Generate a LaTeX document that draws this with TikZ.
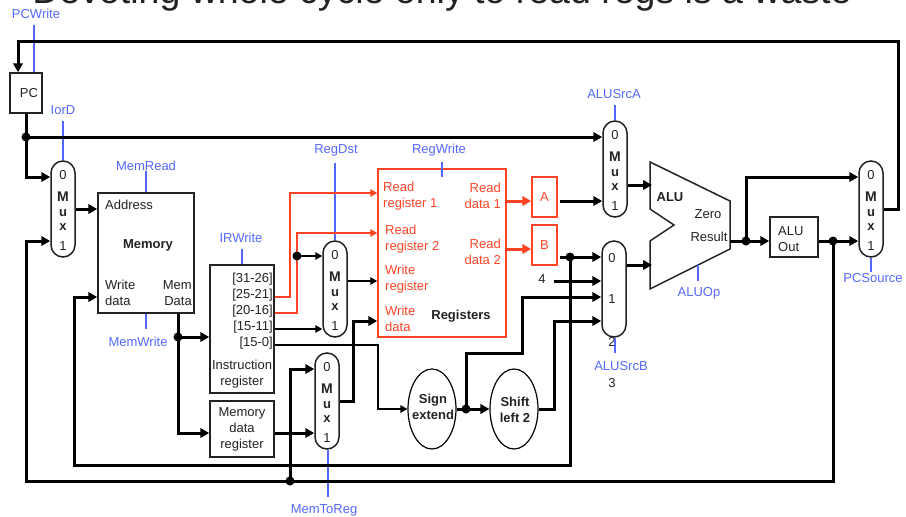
\documentclass[tikz,border=0pt]{standalone}
\usepackage{fontspec}
\setmainfont{Liberation Sans}
\usetikzlibrary{arrows.meta, shapes.geometric}
\definecolor{ctlblue}{HTML}{5468FF}
\definecolor{regred}{HTML}{FF4426}
\definecolor{wiregray}{HTML}{222222}
\newcommand{\muxlabel}{\rule{0pt}{12pt}0\\[6pt]{\fontsize{14}{16}\selectfont\bfseries M}\\[-1pt]\textbf{u}\\[-2pt]\textbf{x}\\[4pt]1}

\begin{document}
\begin{tikzpicture}[x=1pt, y=-1pt, font=\fontsize{13}{16}\selectfont, >={Triangle[length=9pt,width=9.5pt]},
  every node/.append style={inner sep=0pt, text=wiregray},
  box/.style={draw=wiregray, line width=1.5pt, align=center},
  muxbox/.style={box, rounded corners=12pt, minimum width=24pt, minimum height=96pt},
  oval/.style={ellipse, draw=black, line width=1.2pt, minimum width=48pt, minimum height=80pt},
  ovaltxt/.style={align=center, font=\fontsize{13}{16}\selectfont\bfseries},
  redbox/.style={draw=regred, line width=1.5pt, text=regred, align=center},
  txt/.style={align=left, anchor=west},
  redtxt/.style={txt, text=regred},
  ctl/.style={text=ctlblue},
  ctlwire/.style={draw=ctlblue, line width=1.5pt},
  bus/.style={draw=black, line width=3pt},
  thinwire/.style={draw=black, line width=1.3pt, >={Triangle[length=7pt,width=7.5pt]}},
  redwire/.style={draw=regred, line width=1.5pt, >={Triangle[length=7pt,width=7.5pt]}},
  redbus/.style={draw=regred, line width=3pt},
  dot/.style={circle, fill=black, minimum size=9pt}]
  \useasboundingbox (0,0) rectangle (906,517);
  \node[anchor=base] (title) at (442,3) {\fontsize{37.5}{40}\selectfont Devoting whole cycle only to read regs is a waste};

  % state elements
  \node[box, minimum width=32pt, minimum height=40pt] (pc) at (26,93) {\hspace{6pt}PC};
  \node[box, minimum width=96pt, minimum height=120pt] (memory) at (146,253) {};
  \node[box, minimum width=64pt, minimum height=128pt] (ir) at (242,329) {};
  \node[box, minimum width=64pt, minimum height=56pt] (mdr) at (242,429) {Memory\\data\\register};
  \node[redbox, minimum width=128pt, minimum height=168pt] (regs) at (442,253) {};
  \node[redbox, minimum width=25pt, minimum height=40pt] (rega) at (544.5,197) {A};
  \node[redbox, minimum width=25pt, minimum height=40pt] (regb) at (544.5,245) {B};
  \node[box, minimum width=48pt, minimum height=40pt] (aluout) at (794,237) {};
  \node[oval] (sign) at (432,409) {};
  \node[oval] (shift) at (514,409) {};
  \node[ovaltxt] (signtxt) at (433,407) {Sign\\extend};
  \node[ovaltxt] (shifttxt) at (515,410) {Shift\\left 2};

  % muxes
  \node[muxbox] (muxiord) at (63,209) {\muxlabel};
  \node[muxbox] (muxregdst) at (335,289) {\muxlabel};
  \node[muxbox] (muxmemreg) at (327,401) {\muxlabel};
  \node[muxbox] (muxsrca) at (615,169) {\muxlabel};
  \node[muxbox] (muxsrcb) at (614,289) {};
  \node[muxbox] (muxpc) at (871,209) {\muxlabel};

  % alu
  \draw[draw=wiregray, line width=1.5pt, line join=miter] (650,162) -- (730,201) -- (730,249) -- (650,289) -- (650,241) -- (674,225) -- (650,209) -- cycle;
  \coordinate (alua) at (652,185);
  \coordinate (alub) at (652,265);
  \coordinate (alures) at (730,241);
  \node[font=\fontsize{13}{15}\selectfont\bfseries] (alutxt) at (670,197) {ALU};
  \node (zero) at (708,214) {Zero};
  \node (result) at (709,237) {Result};

  % texts in the boxes
  \node[txt] (maddr) at (105,205) {Address};
  \node[font=\fontsize{13}{16}\selectfont\bfseries] (mname) at (148,245) {Memory};
  \node[txt] (mwrite) at (105,293) {Write\\data};
  \node[align=right, anchor=east] (mdata) at (192,293) {Mem\\Data};
  \node[anchor=east] (b3126) at (273,279) {[31-26]};
  \node[anchor=east] (b2521) at (273,295) {[25-21]};
  \node[anchor=east] (b2016) at (273,311) {[20-16]};
  \node[anchor=east] (b1511) at (273,327) {[15-11]};
  \node[anchor=east] (b150) at (273,343) {[15-0]};
  \node[align=center] (irname) at (242,374) {Instruction\\register};
  \node[redtxt] (rr1) at (383,196) {Read\\register 1};
  \node[redtxt] (rr2) at (385,239) {Read\\register 2};
  \node[redtxt] (wreg) at (385,279) {Write\\register};
  \node[redtxt] (wdat) at (385,319) {Write\\data};
  \node[redtxt, align=right, anchor=east] (rd1) at (501,196) {Read\\data 1};
  \node[redtxt, align=right, anchor=east] (rd2) at (501,252) {Read\\data 2};
  \node[font=\fontsize{13}{16}\selectfont\bfseries] (rname) at (461,316) {Registers};
  \node[txt] (aotxt) at (778,239) {ALU\\Out};
  \node (src0) at (612,258) {0};
  \node (src1) at (612,299) {1};
  \node (src2) at (612,342) {2};
  \node (src3) at (612,383) {3};
  \node (four) at (542,279) {4};

  % control
  \node[ctl] (pcwrite) at (36,14) {PCWrite};
  \node[ctl] (iord) at (63,110) {IorD};
  \node[ctl] (memread) at (146,166) {MemRead};
  \node[ctl] (memwrite) at (138,342) {MemWrite};
  \node[ctl] (irwrite) at (241,238) {IRWrite};
  \node[ctl] (regdst) at (336,150) {RegDst};
  \node[ctl] (regwrite) at (439,150) {RegWrite};
  \node[ctl] (memtoreg) at (324,510) {MemToReg};
  \node[ctl] (alusrca) at (614,94) {ALUSrcA};
  \node[ctl] (alusrcb) at (621,366) {ALUSrcB};
  \node[ctl] (aluop) at (699,293) {ALUOp};
  \node[ctl] (pcsource) at (873,278) {PCSource};
  \draw[ctlwire] (34,25) -- (pc.north -| 34,0);
  \draw[ctlwire] (63,121) -- (muxiord.north);
  \draw[ctlwire] (memread.south) -- (memory.north);
  \draw[ctlwire] (memory.south) -- (146,329);
  \draw[ctlwire] (242,249) -- (ir.north);
  \draw[ctlwire] (335,163) -- (muxregdst.north);
  \draw[ctlwire] (442,162) -- (442,177);
  \draw[ctlwire] (muxmemreg.south -| 328,0) -- (328,497);
  \draw[ctlwire] (615,105) -- (muxsrca.north);
  \draw[ctlwire] (muxsrcb.south -| 615,0) -- (615,353);
  \draw[ctlwire] (698,265) -- (698,281);
  \draw[ctlwire] (muxpc.south) -- (871,272);

  % red wires go under the dots
  \draw[redwire, ->] (ir.east |- 0,297) -- (290,297) -- (290,193) -- (regs.west |- 0,193);
  \draw[redwire, ->] (ir.east |- 0,313) -- (297,313) -- (297,233) -- (regs.west |- 0,233);

  % junctions
  \node[dot] (jpc) at (26,137) {};
  \node[dot] (jmem) at (178,337) {};
  \node[dot] (jreg) at (297,256) {};
  \node[dot] (jlow) at (290,481) {};
  \node[dot] (jsign) at (466,409) {};
  \node[dot] (jb) at (570,257) {};
  \node[dot] (jres) at (746,241) {};
  \node[dot] (jout) at (833,241) {};

  % buses
  \draw[bus, ->] (muxpc.east |- 0,209) -- (898,209) -- (898,41) -- (18,41) -- (pc.north -| 18,0);
  \draw[bus] (pc.south) -- (jpc.center);
  \draw[bus, ->] (jpc.center) -- (26,177) -- (muxiord.west |- 0,177);
  \draw[bus, ->] (jpc.center) -- (muxsrca.west |- jpc);
  \draw[bus, ->] (muxiord.east) -- (memory.west |- muxiord.east);
  \draw[bus, ->] (jout.center) -- (833,481) -- (26,481) -- (26,241) -- (muxiord.west |- 0,241);
  \draw[bus, ->] (jb.center) -- (570,465) -- (74,465) -- (74,297) -- (memory.west |- 0,297);
  \draw[bus] (memory.south -| jmem) -- (jmem.center);
  \draw[bus, ->] (jmem.center) -- (ir.west |- jmem);
  \draw[bus, ->] (jmem.center) -- (178,433) -- (mdr.west |- 0,433);
  \draw[bus, ->] (mdr.east |- 0,433) -- (muxmemreg.west |- 0,433);
  \draw[bus, ->] (jlow.center) -- (290,369) -- (muxmemreg.west |- 0,369);
  \draw[bus, ->] (muxmemreg.east) -- (353,401) -- (353,321) -- (regs.west |- 0,321);
  \draw[bus, ->] (shift.east) -- (554,409) -- (554,321) -- (muxsrcb.west |- 0,321);
  \draw[bus] (sign.east) -- (jsign.center);
  \draw[bus, ->] (jsign.center) -- (shift.west);
  \draw[bus, ->] (jsign.center) -- (466,353) -- (522,353) -- (522,297) -- (muxsrcb.west |- 0,297);
  \draw[bus, ->] (rega.east |- 0,201) ++(2,0) -- (muxsrca.west |- 0,201);
  \draw[bus] (regb.east |- jb) ++(2,0) -- (jb.center);
  \draw[bus, ->] (jb.center) -- (muxsrcb.west |- jb);
  \draw[bus, ->] (554,281) -- (muxsrcb.west |- 0,281);
  \draw[bus, ->] (muxsrca.east |- alua) -- (alua);
  \draw[bus, ->] (muxsrcb.east |- alub) -- (alub);
  \draw[bus] (alures) -- (jres.center);
  \draw[bus, ->] (jres.center) -- (aluout.west |- jres);
  \draw[bus, ->] (jres.center) -- (746,177) -- (muxpc.west |- 0,177);
  \draw[bus] (aluout.east |- jout) -- (jout.center);
  \draw[bus, ->] (jout.center) -- (muxpc.west |- jout);
  \draw[redbus, ->] (regs.east |- 0,201) -- (rega.west |- 0,201);
  \draw[redbus, ->] (regs.east |- 0,249) -- (regb.west |- 0,249);

  % thin wires
  \draw[thinwire, ->] (jreg.center) -- (muxregdst.west |- jreg);
  \draw[thinwire, ->] (ir.east |- 0,329) -- (muxregdst.west |- 0,329);
  \draw[thinwire, ->] (muxregdst.east |- 0,281) -- (regs.west |- 0,281);
  \draw[thinwire, ->] (ir.east |- 0,345) -- (378,345) -- (378,409) -- (sign.west);
\end{tikzpicture}
\end{document}
